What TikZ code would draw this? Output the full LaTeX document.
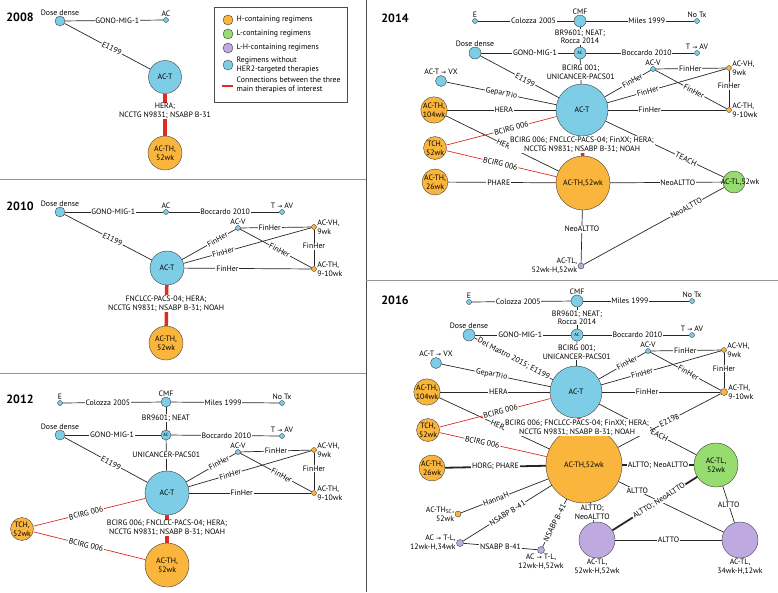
\documentclass[tikz,border=0pt]{standalone}
\usepackage{fontspec}
\setmainfont{PT Sans}
\newfontfamily\symfont{DejaVu Sans}
\newcommand{\myarr}{{\symfont\fontsize{6}{6}\selectfont →}}
\definecolor{cblue}{RGB}{125,205,230}
\definecolor{corange}{RGB}{250,182,60}
\definecolor{cgreen}{RGB}{150,220,110}
\definecolor{cpurple}{RGB}{190,170,225}
\definecolor{cred}{RGB}{220,45,35}
\definecolor{cframe}{RGB}{150,150,150}
\begin{document}
\begin{tikzpicture}[x=1pt,y=-1pt,font=\fontsize{7.8}{8.6}\selectfont,
  base/.style={circle,draw=black!75,line width=0.4pt,inner sep=0pt,align=center,minimum size=#1},
  nb/.style={base=#1,fill=cblue},
  no/.style={base=#1,fill=corange},
  ng/.style={base=#1,fill=cgreen},
  np/.style={base=#1,fill=cpurple},
  ln/.style={line width=0.7pt,draw=black!85},
  lnk/.style={line width=1.8pt,draw=black!85},
  rl/.style={draw=cred,line width=0.7pt},
  rt/.style={draw=cred,line width=3.5pt},
  lb/.style={fill=white,inner sep=0.8pt,align=center},
  yr/.style={font=\fontsize{12}{14}\selectfont\bfseries},
  tl/.style={inner sep=0.5pt,align=center},
  tiny/.style={font=\fontsize{4.5}{5}\selectfont}]
\useasboundingbox (0,0) rectangle (778,592);
% frames
\draw[cframe,line width=1pt] (0,179) -- (366,179);
\draw[cframe,line width=1pt] (0,373) -- (366,373);
\draw[black!70,line width=0.6pt] (366,0) -- (366,592);
\draw[cframe,line width=1pt] (366,280) -- (778,280);

% ===== legend =====
\node[draw=black!70,line width=0.5pt,minimum width=133pt,minimum height=95pt,inner sep=0pt] (leg) at (280.5,54.5) {};
\node[no=10pt] (lo) at (228,20) {};
\node[ng=10pt] (lg) at (228,34) {};
\node[np=10pt] (lp) at (228,48) {};
\node[nb=10pt] (lbl) at (228,65) {};
\coordinate (lr1) at (222,86); \coordinate (lr2) at (233,86);
\draw[cred,line width=1.2pt] (lr1) -- (lr2);
\node[anchor=west,tl] (t1) at (236,20) {H-containing regimens};
\node[anchor=west,tl] (t2) at (236,34) {L-containing regimens};
\node[anchor=west,tl] (t3) at (236,48) {L-H-containing regimens};
\node[anchor=west,tl,align=left] (t4) at (236,65) {Regimens without\\HER2-targeted therapies};
\node[anchor=west,tl,align=left] (t5) at (236,85) {Connections between the three\\main therapies of interest};

% ===== 2008 =====
\node[yr] (y08) at (20,17) {2008};
\node[nb=10pt,label={[tl]above:Dose dense}] (dd08) at (60,21) {};
\node[nb=5pt,label={[tl]above:AC}] (ac08) at (166,20) {};
\node[nb=33pt] (act08) at (165,77) {AC-T};
\node[no=34pt] (acth08) at (165,153) {AC-TH,\\52wk};
\draw[ln] (dd08) -- node[lb,pos=0.53]{GONO-MIG-1} (ac08);
\draw[ln] (dd08) -- node[lb,sloped,pos=0.55]{E1199} (act08);
\draw[rt] (act08) -- (acth08);
\node[lb] (l08) at (165,111) {HERA;\\NCCTG N9831; NSABP B-31};

% ===== 2010 =====
\node[yr] (y10) at (20,206) {2010};
\node[nb=10pt,label={[tl]above:Dose dense}] (dd10) at (60,212) {};
\node[nb=5pt,label={[tl]above:AC}] (ac10) at (166,212) {};
\node[nb=5pt,label={[tl]above:T \myarr{} AV}] (tav10) at (282,212) {};
\node[nb=34pt] (act10) at (167,268) {AC-T};
\node[no=34pt] (acth10) at (166,343) {AC-TH,\\52wk};
\node[nb=5pt,label={[tl]above:AC-V}] (acv10) at (238,228) {};
\node[no=5pt,label={[tl,align=left]right:AC-VH,\\9wk}] (acvh10) at (314,227) {};
\node[no=5pt,label={[tl,align=left]right:AC-TH,\\9-10wk}] (ac910) at (314,269) {};
\draw[ln] (dd10) -- node[lb,pos=0.49]{GONO-MIG-1} (ac10);
\draw[ln] (ac10) -- node[lb,pos=0.51]{Boccardo 2010} (tav10);
\draw[ln] (dd10) -- node[lb,sloped,pos=0.55]{E1199} (act10);
\draw[ln] (act10) -- node[lb,sloped,pos=0.66]{FinHer} (acv10);
\draw[ln] (act10) -- node[lb,sloped,pos=0.31]{FinHer} (acvh10);
\draw[ln] (act10) -- node[lb,pos=0.34]{FinHer} (ac910);
\draw[ln] (acv10) -- node[lb,pos=0.41]{FinHer} (acvh10);
\draw[ln] (acv10) -- node[lb,sloped,pos=0.55]{FinHer} (ac910);
\draw[ln] (acvh10) -- node[lb,pos=0.45]{FinHer} (ac910);
\draw[rt] (act10) -- (acth10);
\node[lb] (l10) at (166,303.5) {FNCLCC-PACS-04; HERA;\\NCCTG N9831; NSABP B-31; NOAH};

% ===== 2012 =====
\node[yr] (y12) at (20,399) {2012};
\node[nb=5pt,label={[tl]above:E}] (e12) at (60,403) {};
\node[nb=10pt,label={[tl]above:CMF}] (cmf12) at (166,402) {};
\node[nb=5pt,label={[tl]above:No Tx}] (nt12) at (282,403) {};
\node[nb=10pt,label={[tl]above:Dose dense}] (dd12) at (60,435) {};
\node[nb=10pt,tiny] (ac12) at (166,435) {AC};
\node[nb=5pt,label={[tl]above:T \myarr{} AV}] (tav12) at (282,436) {};
\node[nb=44pt] (act12) at (167,493) {AC-T};
\node[no=44pt] (acth12) at (167,565) {AC-TH,\\52wk};
\node[no=19pt] (tch12) at (22,529) {TCH,\\52wk};
\node[nb=5pt,label={[tl]above:AC-V}] (acv12) at (238,452) {};
\node[no=5pt,label={[tl,align=left]right:AC-VH,\\9wk}] (acvh12) at (314,450) {};
\node[no=5pt,label={[tl,align=left]right:AC-TH,\\9-10wk}] (ac912) at (314,493) {};
\draw[ln] (e12) -- node[lb,pos=0.46]{Colozza 2005} (cmf12);
\draw[ln] (cmf12) -- node[lb,pos=0.48]{Miles 1999} (nt12);
\draw[ln] (cmf12) -- node[lb,pos=0.48]{BR9601; NEAT} (ac12);
\draw[ln] (dd12) -- node[lb,pos=0.49]{GONO-MIG-1} (ac12);
\draw[ln] (ac12) -- node[lb,pos=0.51]{Boccardo 2010} (tav12);
\draw[ln] (ac12) -- node[lb,pos=0.48]{UNICANCER-PACS01} (act12);
\draw[ln] (dd12) -- node[lb,sloped,pos=0.56]{E1199} (act12);
\draw[rl] (tch12) -- node[lb,sloped,pos=0.47]{BCIRG 006} (act12);
\draw[rl] (tch12) -- node[lb,sloped,pos=0.47]{BCIRG 006} (acth12);
\draw[ln] (act12) -- node[lb,sloped,pos=0.66]{FinHer} (acv12);
\draw[ln] (act12) -- node[lb,sloped,pos=0.34]{FinHer} (acvh12);
\draw[ln] (act12) -- node[lb,pos=0.43]{FinHer} (ac912);
\draw[ln] (acv12) -- node[lb,pos=0.5]{FinHer} (acvh12);
\draw[ln] (acv12) -- node[lb,sloped,pos=0.58]{FinHer} (ac912);
\draw[ln] (acvh12) -- node[lb,pos=0.42]{FinHer} (ac912);
\draw[rt] (act12) -- (acth12);
\node[lb] (l12) at (167,528) {BCIRG 006; FNCLCC-PACS-04; HERA;\\NCCTG N9831; NSABP B-31; NOAH};

% ===== 2014 =====
\node[yr] (y14) at (395,18) {2014};
\node[nb=5pt,label={[tl]above:E}] (e14) at (475,21) {};
\node[nb=12pt,label={[tl]above:CMF}] (cmf14) at (580,21) {};
\node[nb=5pt,label={[tl]above:No Tx}] (nt14) at (697,21) {};
\node[nb=12pt,label={[tl]above:Dose dense}] (dd14) at (475,53) {};
\node[nb=12pt,tiny] (ac14) at (580,53) {AC};
\node[nb=5pt,label={[tl]above:T \myarr{} AV}] (tav14) at (697,53) {};
\node[nb=11pt,label={[tl]above:AC-T \myarr{} VX}] (vx14) at (441,81) {};
\node[nb=52pt] (act14) at (582,110) {AC-T};
\node[no=22pt] (th10414) at (434,110) {AC-TH,\\104wk};
\node[no=20pt] (tch14) at (435,148) {TCH,\\52wk};
\node[no=22pt] (th2614) at (435,182) {AC-TH,\\26wk};
\node[no=54pt] (acth14) at (583,183) {AC-TH,52wk};
\node[np=6pt,label={[tl,align=right]left:AC-TL,\\52wk-H,52wk}] (tl14) at (581,266) {};
\node[ng=22pt] (gtl14) at (734,182) {};
\node[tl] (gtt14) at (740,182) {AC-TL,52wk};
\node[nb=5pt,label={[tl]above:AC-V}] (acv14) at (653,69) {};
\node[no=5pt,label={[tl,align=left]right:AC-VH,\\9wk}] (acvh14) at (729,68) {};
\node[no=5pt,label={[tl,align=left]right:AC-TH,\\9-10wk}] (ac914) at (729,110) {};
\draw[ln] (e14) -- node[lb,pos=0.58]{Colozza 2005} (cmf14);
\draw[ln] (cmf14) -- node[lb,pos=0.56]{Miles 1999} (nt14);
\draw[ln] (cmf14) -- node[lb,pos=0.48]{BR9601; NEAT;\\Rocca 2014} (ac14);
\draw[ln] (dd14) -- node[lb,pos=0.58]{GONO-MIG-1} (ac14);
\draw[ln] (ac14) -- node[lb,pos=0.56]{Boccardo 2010} (tav14);
\draw[ln] (ac14) -- node[lb,pos=0.52]{BCIRG 001;\\UNICANCER-PACS01} (act14);
\draw[ln] (dd14) -- node[lb,sloped,pos=0.57]{E1199} (act14);
\draw[ln] (vx14) -- node[lb,sloped,pos=0.5]{GeparTrio} (act14);
\draw[ln] (th10414) -- node[lb,pos=0.52]{HERA} (act14);
\draw[ln] (th10414) -- node[lb,sloped,pos=0.53]{HERA} (acth14);
\draw[rl] (tch14) -- node[lb,sloped,pos=0.59]{BCIRG 006} (act14);
\draw[rl] (tch14) -- node[lb,sloped,pos=0.49]{BCIRG 006} (acth14);
\draw[ln] (th2614) -- node[lb,pos=0.47]{PHARE} (acth14);
\draw[ln] (acth14) -- node[lb,pos=0.36]{NeoALTTO} (tl14);
\draw[ln] (acth14) -- node[lb,pos=0.6]{NeoALTTO} (gtl14);
\draw[ln] (tl14) -- node[lb,sloped,pos=0.73]{NeoALTTO} (gtl14);
\draw[ln] (act14) -- node[lb,sloped,pos=0.68]{TEACH} (gtl14);
\draw[ln] (act14) -- node[lb,sloped,pos=0.6]{FinHer} (acv14);
\draw[ln] (act14) -- node[lb,sloped,pos=0.34]{FinHer} (acvh14);
\draw[ln] (act14) -- node[lb,pos=0.35]{FinHer} (ac914);
\draw[ln] (acv14) -- node[lb,pos=0.49]{FinHer} (acvh14);
\draw[ln] (acv14) -- node[lb,sloped,pos=0.54]{FinHer} (ac914);
\draw[ln] (acvh14) -- node[lb,pos=0.42]{FinHer} (ac914);
\draw[rt] (act14) -- (acth14);
\node[lb] (l14) at (582,144.5) {BCIRG 006; FNCLCC-PACS-04; FinXX; HERA;\\NCCTG N9831; NSABP B-31; NOAH};

% ===== 2016 =====
\node[yr] (y16) at (395,300) {2016};
\node[nb=5pt,label={[tl]above:E}] (e16) at (469,302) {};
\node[nb=12pt,label={[tl]above:CMF}] (cmf16) at (577,301) {};
\node[nb=5pt,label={[tl]above:No Tx}] (nt16) at (692,301) {};
\node[nb=12pt,label={[tl]above:Dose dense}] (dd16) at (469,335) {};
\node[nb=12pt,tiny] (ac16) at (577,335) {AC};
\node[nb=5pt,label={[tl]above:T \myarr{} AV}] (tav16) at (692,335) {};
\node[nb=11pt,label={[tl]above:AC-T \myarr{} VX}] (vx16) at (436,363) {};
\node[nb=52pt] (act16) at (576,392) {AC-T};
\node[no=22pt] (th10416) at (427,392) {AC-TH,\\104wk};
\node[no=20pt] (tch16) at (428,430) {TCH,\\52wk};
\node[no=22pt] (th2616) at (432,468) {AC-TH,\\26wk};
\node[no=76pt] (acth16) at (584,465) {AC-TH,52wk};
\node[no=6pt,label={[tl,align=right]left:AC-TH\textsubscript{SC},\\52wk}] (sc16) at (458,514) {};
\node[np=7pt,label={[tl,align=right]left:AC \myarr{} T-L,\\12wk-H,34wk}] (p3416) at (460,543) {};
\node[np=7pt,label={[tl,align=center]below:AC \myarr{} T-L,\\12wk-H,52wk}] (p5216) at (541,550) {};
\node[ng=44pt] (gtl16) at (716,465) {AC-TL,\\52wk};
\node[np=36pt,label={[tl]below:AC-TL,\\52wk-H,52wk}] (pl16) at (597,540) {};
\node[np=36pt,label={[tl]below:AC-TL,\\34wk-H,12wk}] (pr16) at (740,540) {};
\node[nb=5pt,label={[tl]above:AC-V}] (acv16) at (648,351) {};
\node[no=5pt,label={[tl,align=left]right:AC-VH,\\9wk}] (acvh16) at (724,350) {};
\node[no=7pt,label={[tl,align=left]right:AC-TH,\\9-10wk}] (ac916) at (724,392) {};
\draw[ln] (e16) -- node[lb,pos=0.47]{Colozza 2005} (cmf16);
\draw[ln] (cmf16) -- node[lb,pos=0.44]{Miles 1999} (nt16);
\draw[ln] (cmf16) -- node[lb,pos=0.48]{BR9601; NEAT;\\Rocca 2014} (ac16);
\draw[ln] (dd16) -- node[lb,pos=0.47]{GONO-MIG-1} (ac16);
\draw[ln] (ac16) -- node[lb,pos=0.51]{Boccardo 2010} (tav16);
\draw[ln] (ac16) -- node[lb,pos=0.44]{BCIRG 001;\\UNICANCER-PACS01} (act16);
\draw[ln] (dd16) -- node[lb,sloped,pos=0.5]{Del Mastro 2015; E1199} (act16);
\draw[ln] (vx16) -- node[lb,sloped,pos=0.46]{GeparTrio} (act16);
\draw[ln] (th10416) -- node[lb,pos=0.53]{HERA} (act16);
\draw[ln] (th10416) -- node[lb,sloped,pos=0.55]{HERA} (acth16);
\draw[rl] (tch16) -- node[lb,sloped,pos=0.55]{BCIRG 006} (act16);
\draw[rl] (tch16) -- node[lb,sloped,pos=0.4]{BCIRG 006} (acth16);
\draw[lnk] (th2616) -- node[lb,pos=0.5]{HORG; PHARE} (acth16);
\draw[ln] (acth16) -- node[lb,sloped,pos=0.6]{HannaH} (sc16);
\draw[ln] (acth16) -- node[lb,sloped,pos=0.5]{NSABP B-41} (p3416);
\draw[ln] (acth16) -- node[lb,sloped,pos=0.5]{NSABP B-41} (p5216);
\draw[ln] (p3416) -- node[lb,pos=0.5]{NSABP B-41} (p5216);
\draw[lnk] (acth16) -- node[lb,pos=0.5]{ALTTO; NeoALTTO} (gtl16);
\draw[ln] (acth16) -- node[lb,pos=0.5]{ALTTO;\\NeoALTTO} (pl16);
\draw[ln] (acth16) -- node[lb,pos=0.18]{ALTTO} (pr16);
\draw[lnk] (pl16) -- node[lb,sloped,pos=0.55]{ALTTO; NeoALTTO} (gtl16);
\draw[ln] (gtl16) -- node[lb,pos=0.5]{ALTTO} (pr16);
\draw[ln] (pl16) -- node[lb,pos=0.5]{ALTTO} (pr16);
\draw[ln] (act16) -- node[lb,sloped,pos=0.6]{TEACH} (gtl16);
\draw[ln] (ac916) -- node[lb,sloped,pos=0.5]{E2198} (acth16);
\draw[ln] (act16) -- node[lb,sloped,pos=0.6]{FinHer} (acv16);
\draw[ln] (act16) -- node[lb,sloped,pos=0.34]{FinHer} (acvh16);
\draw[ln] (act16) -- node[lb,pos=0.38]{FinHer} (ac916);
\draw[ln] (acv16) -- node[lb,pos=0.49]{FinHer} (acvh16);
\draw[ln] (acv16) -- node[lb,sloped,pos=0.54]{FinHer} (ac916);
\draw[ln] (acvh16) -- node[lb,pos=0.45]{FinHer} (ac916);
\draw[rt] (act16) -- (acth16);
\node[lb] (l16) at (577,427.5) {BCIRG 006; FNCLCC-PACS-04; FinXX; HERA;\\NCCTG N9831; NSABP B-31; NOAH};
\end{tikzpicture}
\end{document}
